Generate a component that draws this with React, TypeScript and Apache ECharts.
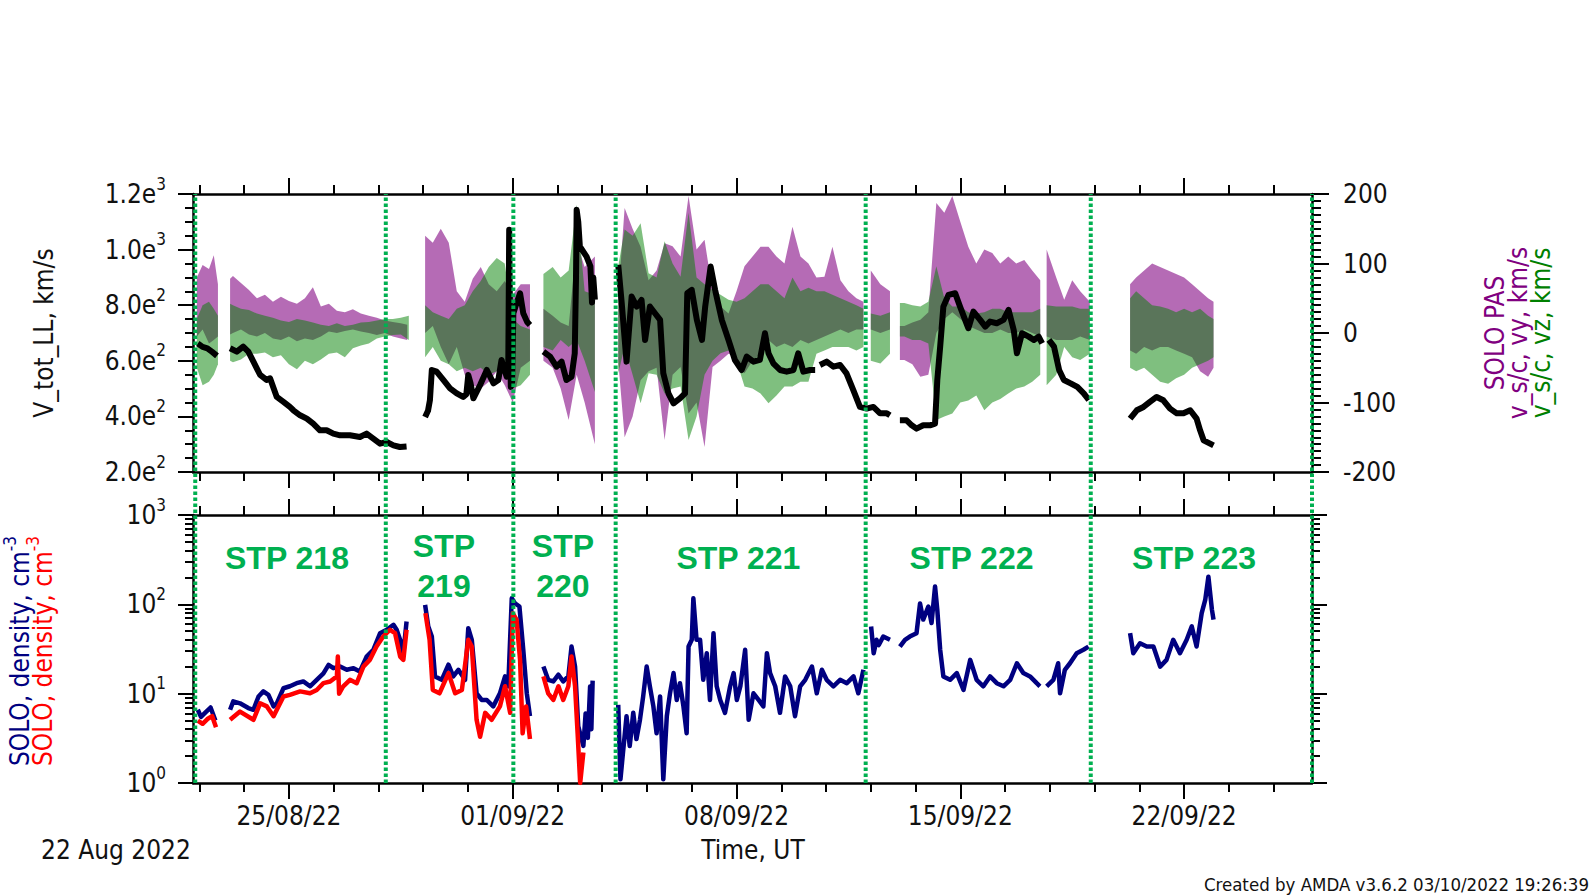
import React, { useEffect, useRef } from "react";
import * as echarts from "echarts";

// ---------- time axis: days since 22 Aug 2022 00:00 UT ----------
const T0 = Date.UTC(2022, 7, 22);
const DAY_MS = 86400000;
const X_MIN = 0;
const X_MAX = 35;
const MAJOR_TICK_DAYS = [3, 10, 17, 24, 31];
const MINOR_TICK_DAYS = [0.2, 1.6, 4.4, 5.8, 7.2, 8.6, 11.4, 12.8, 14.2, 15.6, 18.4, 19.8, 21.2, 22.6, 25.4, 26.8, 28.2, 29.6, 32.4, 33.8];
const LOG_MAJOR = [1, 10, 100, 1000];
const LOG_MINOR = [2, 3, 4, 5, 6, 7, 8, 9, 20, 30, 40, 50, 60, 70, 80, 90, 200, 300, 400, 500, 600, 700, 800, 900];

// ---------- STP intervals ----------
const STP_BOUNDARIES = [0.07, 6.03, 10.02, 13.22, 21.04, 28.08, 35.0];
const STP_NAMES = ["STP 218", "STP\n219", "STP\n220", "STP 221", "STP 222", "STP 223"];
const STP_LABEL_DAY = [2.94, 7.85, 11.57, 17.06, 24.35, 31.31];
const STP_LABEL_LEVEL = [330, 269, 269, 330, 330, 330];

// ---------- V_tot_LL (km/s), [day, value], null = data gap ----------
const V_TOT = [
  [0.15, 662], [0.3, 650], [0.45, 645], [0.6, 632], [0.75, 618],
  null,
  [1.16, 645], [1.37, 633], [1.57, 651], [1.73, 633], [1.89, 597], [2.1, 549], [2.3, 531], [2.41, 537], [2.62, 470], [2.83, 452],
  [3.03, 434], [3.14, 422], [3.35, 404], [3.56, 392], [3.76, 374], [3.97, 350], [4.18, 350], [4.39, 338], [4.6, 332], [4.91, 332],
  [5.22, 326], [5.43, 338], [5.64, 320], [5.85, 302], [6.06, 308], [6.27, 296], [6.47, 290], [6.68, 292],
  null,
  [7.26, 398], [7.35, 420], [7.41, 458], [7.47, 567], [7.62, 561], [7.83, 531], [8.04, 501], [8.25, 483], [8.45, 470], [8.55, 480],
  [8.61, 549], [8.68, 520], [8.77, 465], [8.98, 513], [9.19, 567], [9.4, 519], [9.55, 531], [9.65, 603], [9.81, 543], [9.86, 560],
  [9.89, 1071], [9.92, 700], [9.94, 506], [9.98, 520], [10.02, 771], [10.1, 800], [10.23, 843], [10.33, 771], [10.45, 740], [10.54, 729],
  null,
  [10.96, 633], [11.17, 615], [11.37, 579], [11.53, 597], [11.68, 531], [11.84, 543], [11.94, 627], [11.98, 900], [12.0, 1143],
  [12.05, 1100], [12.1, 1011], [12.31, 975], [12.43, 940], [12.48, 810], [12.52, 900], [12.57, 820],
  null,
  [13.3, 945], [13.41, 807], [13.56, 597], [13.72, 831], [13.88, 795], [14.03, 819], [14.14, 675], [14.29, 795], [14.45, 771],
  [14.61, 747], [14.71, 555], [14.87, 483], [15.03, 447], [15.23, 465], [15.39, 483], [15.46, 843], [15.6, 855], [15.76, 747],
  [15.92, 675], [16.02, 795], [16.19, 939], [16.33, 855], [16.54, 747], [16.75, 675], [16.95, 603], [17.16, 567], [17.32, 615],
  [17.53, 597], [17.73, 603], [17.89, 699], [18.0, 627], [18.15, 591], [18.36, 567], [18.57, 561], [18.78, 567], [18.93, 627],
  [19.09, 561], [19.3, 567], [19.46, 567],
  null,
  [19.61, 585], [19.82, 597], [20.03, 579], [20.24, 585], [20.44, 555], [20.65, 495], [20.86, 434], [21.07, 428], [21.28, 434],
  [21.49, 411], [21.7, 411], [21.8, 404],
  null,
  [22.11, 386], [22.32, 386], [22.48, 368], [22.63, 356], [22.84, 368], [23.05, 368], [23.21, 374], [23.28, 531], [23.37, 651],
  [23.47, 795], [23.63, 837], [23.84, 843], [23.99, 795], [24.15, 747], [24.25, 717], [24.41, 777], [24.62, 747], [24.78, 723],
  [24.93, 741], [25.14, 735], [25.35, 747], [25.51, 783], [25.67, 711], [25.77, 627], [25.93, 699], [26.14, 687], [26.3, 675],
  [26.45, 687], [26.56, 663],
  null,
  [26.77, 675], [26.93, 651], [27.09, 567], [27.24, 531], [27.45, 519], [27.66, 506], [27.86, 483], [28.02, 459],
  null,
  [29.31, 392], [29.52, 422], [29.73, 434], [29.93, 452], [30.14, 470], [30.35, 458], [30.56, 428], [30.77, 411], [30.98, 411],
  [31.19, 422], [31.39, 392], [31.5, 350], [31.61, 314], [31.92, 296],
];

// ---------- SOLO PAS vy (km/s): spread of the samples, [day, low, high] ----------
const VY_SPREAD = [
  [0.12, -5, 80], [0.3, 5, 98], [0.5, -15, 92], [0.65, -10, 112], [0.78, -5, 70],
  null,
  [1.16, -2, 78], [1.25, 0, 82], [1.5, 5, 72], [1.75, -2, 62], [2.0, -5, 50], [2.25, 0, 55], [2.5, -8, 45], [2.75, -10, 52],
  [3.0, -5, 46], [3.25, -12, 42], [3.5, -8, 50], [3.75, -10, 66], [4.0, -5, 38], [4.25, 2, 42], [4.5, 0, 32], [4.75, 3, 30],
  [5.0, 5, 34], [5.25, 2, 28], [5.5, 0, 25], [5.75, -3, 22], [6.0, 0, 18], [6.25, -5, 16], [6.5, -8, 14], [6.7, -10, 12],
  null,
  [7.26, 0, 140], [7.5, 10, 130], [7.75, -20, 150], [8.0, -45, 130], [8.25, -20, 60], [8.5, -60, 45], [8.75, -75, 78],
  [9.0, -80, 95], [9.25, -70, 70], [9.5, -55, 60], [9.75, -75, 75], [10.0, -100, 55], [10.25, -50, 70], [10.54, -40, 70],
  null,
  [10.96, -40, 35], [11.25, -50, 25], [11.5, -80, 15], [11.75, -125, 10], [12.0, -60, 130], [12.25, -100, 95], [12.57, -160, 110],
  null,
  [13.3, -40, 50], [13.5, -150, 180], [13.75, -120, 150], [14.0, -68, 124], [14.25, -55, 76], [14.5, -50, 90], [14.75, -154, 129],
  [15.0, -60, 125], [15.25, -49, 110], [15.5, -116, 197], [15.75, -100, 120], [16.0, -164, 134], [16.25, -49, 60], [16.5, -40, 38],
  [16.75, -30, 28], [17.0, -35, 60], [17.25, -58, 96], [17.5, -40, 110], [17.75, -30, 124], [18.0, -10, 124], [18.25, -20, 110],
  [18.5, -15, 100], [18.75, -20, 153], [19.0, -10, 110], [19.25, -15, 100], [19.5, -10, 80], [19.75, -5, 81], [20.0, 0, 124],
  [20.25, 5, 76], [20.5, 0, 60], [20.75, 5, 50], [20.97, 5, 45],
  null,
  [21.2, 5, 90], [21.5, 0, 70], [21.8, 5, 60],
  null,
  [22.11, -39, 10], [22.25, -39, 10], [22.5, -45, 15], [22.75, -63, 19], [23.0, -60, 30], [23.25, 0, 187], [23.5, 20, 173],
  [23.75, 30, 197], [24.0, 20, 160], [24.25, 10, 124], [24.5, 5, 100], [24.75, 0, 120], [25.0, 0, 115], [25.25, 5, 100],
  [25.5, 0, 110], [25.75, 0, 100], [26.0, 5, 105], [26.25, 0, 90], [26.5, -5, 76],
  null,
  [26.7, -5, 120], [27.0, -10, 80], [27.25, -10, 48], [27.5, -10, 76], [27.75, -5, 60], [28.05, -10, 45],
  null,
  [29.31, -25, 70], [29.5, -30, 80], [29.75, -20, 90], [30.0, -25, 100], [30.25, -20, 95], [30.5, -20, 90], [30.75, -25, 85],
  [31.0, -30, 80], [31.25, -35, 70], [31.5, -55, 60], [31.75, -63, 50], [31.92, -50, 45],
];

// ---------- SOLO PAS vz (km/s): spread of the samples, [day, low, high] ----------
const VZ_SPREAD = [
  [0.12, -50, 20], [0.3, -75, 40], [0.5, -70, 45], [0.65, -60, 35], [0.78, -45, 25],
  null,
  [1.16, -40, 42], [1.25, -42, 40], [1.5, -38, 35], [1.75, -30, 33], [2.0, -30, 28], [2.25, -28, 25], [2.5, -35, 22],
  [2.75, -32, 18], [3.0, -45, 16], [3.25, -52, 20], [3.5, -40, 18], [3.75, -45, 15], [4.0, -38, 12], [4.25, -30, 10],
  [4.5, -28, 14], [4.75, -35, 10], [5.0, -22, 12], [5.25, -18, 15], [5.5, -15, 16], [5.75, -8, 18], [6.0, -5, 20],
  [6.25, -3, 20], [6.5, -2, 22], [6.75, -10, 25],
  null,
  [7.26, -35, 40], [7.5, -20, 30], [7.75, -40, 25], [8.0, -45, 20], [8.25, -55, 35], [8.5, -50, 40], [8.75, -55, 60],
  [9.0, -50, 75], [9.25, -60, 95], [9.5, -55, 108], [9.75, -40, 100], [10.0, -80, 20], [10.25, -75, 10], [10.54, -60, 5],
  null,
  [10.96, -20, 85], [11.25, -25, 95], [11.5, -10, 80], [11.75, -20, 90], [12.0, -10, 185], [12.25, -40, 60], [12.57, -85, 55],
  null,
  [13.3, -58, 96], [13.5, -20, 149], [13.75, -60, 140], [14.0, -101, 158], [14.25, -58, 86], [14.5, -60, 80], [14.75, -87, 132],
  [15.0, -80, 100], [15.25, -77, 81], [15.5, -154, 173], [15.75, -120, 80], [16.0, -60, 70], [16.25, -40, 62], [16.5, -29, 55],
  [16.75, -25, 48], [17.0, -40, 45], [17.25, -77, 50], [17.5, -80, 60], [17.75, -87, 70], [18.0, -101, 70], [18.25, -90, 60],
  [18.5, -77, 50], [18.75, -77, 80], [19.0, -70, 60], [19.25, -70, 65], [19.5, -30, 60], [19.75, -25, 60], [20.0, -20, 55],
  [20.25, -20, 50], [20.5, -20, 45], [20.75, -25, 40], [20.97, -20, 35],
  null,
  [21.2, -40, 28], [21.5, -44, 25], [21.8, -30, 30],
  null,
  [22.11, -5, 43], [22.25, -5, 43], [22.5, -10, 40], [22.75, -10, 38], [23.0, -15, 45], [23.25, -125, 96], [23.5, -120, 50],
  [23.75, -116, 38], [24.0, -100, 38], [24.25, -97, 30], [24.5, -90, 28], [24.75, -111, 30], [25.0, -100, 35], [25.25, -95, 35],
  [25.5, -87, 30], [25.75, -80, 30], [26.0, -77, 30], [26.25, -70, 30], [26.5, -60, 35],
  null,
  [26.7, -75, 40], [27.0, -60, 38], [27.25, -20, 38], [27.5, -35, 38], [27.75, -39, 35], [28.05, -30, 35],
  null,
  [29.31, -50, 50], [29.5, -55, 60], [29.75, -50, 50], [30.0, -60, 40], [30.25, -70, 38], [30.5, -73, 35], [30.75, -65, 30],
  [31.0, -60, 35], [31.25, -50, 30], [31.5, -45, 35], [31.75, -40, 25], [31.92, -35, 20],
];

// ---------- SOLO density (cm^-3), blue ----------
const DENSITY_BLUE = [
  [0.15, 6.6], [0.25, 5.5], [0.4, 6.2], [0.55, 7.0], [0.7, 5.0],
  null,
  [1.16, 6.6], [1.26, 8.2], [1.47, 7.8], [1.73, 6.9], [1.89, 6.6], [2.05, 9.3], [2.2, 10.6], [2.36, 9.7], [2.52, 7.2], [2.62, 7.8],
  [2.83, 11.5], [3.03, 12.1], [3.24, 13.1], [3.45, 13.7], [3.66, 12.1], [3.87, 14.3], [4.08, 16.9], [4.24, 21], [4.39, 19.3],
  [4.6, 20.1], [4.81, 18.5], [5.02, 19.3], [5.22, 17.7], [5.43, 26], [5.64, 30.9], [5.85, 47.5], [6.06, 51.9], [6.27, 59],
  [6.37, 51.9], [6.48, 40], [6.58, 28.3], [6.68, 64.3],
  null,
  [7.26, 98.6], [7.36, 56.3], [7.47, 43.6], [7.57, 15.6], [7.78, 14.3], [7.99, 21.1], [8.14, 15.6], [8.3, 18.5], [8.51, 14.3],
  [8.61, 54.1], [8.72, 40.1], [8.87, 10.1], [9.03, 8.5], [9.19, 8.5], [9.39, 7.2], [9.6, 10.1], [9.76, 15.6], [9.86, 12.1],
  [9.97, 117], [10.07, 103], [10.21, 94.6], [10.33, 31], [10.44, 10.1], [10.54, 5.6],
  null,
  [10.96, 20.1], [11.11, 14.3], [11.27, 13.7], [11.43, 16.3], [11.58, 13.7], [11.74, 15.6], [11.84, 33.7], [11.95, 20.1],
  [12.05, 4.3], [12.21, 2.6], [12.28, 6], [12.35, 3.2], [12.42, 12], [12.46, 4], [12.5, 14],
  null,
  [13.3, 7.5], [13.37, 1.1], [13.45, 2.2], [13.56, 5.6], [13.66, 2.6], [13.77, 6.1], [13.87, 3.1], [13.98, 5.1], [14.08, 9.3],
  [14.19, 20.1], [14.29, 12.1], [14.4, 7.2], [14.5, 3.6], [14.61, 9.3], [14.71, 1.1], [14.82, 5.6], [14.92, 10.1], [15.03, 17],
  [15.13, 8.5], [15.23, 13.1], [15.34, 7.2], [15.44, 3.6], [15.5, 33.7], [15.6, 40.1], [15.65, 117], [15.75, 40.1], [15.86, 40.1],
  [15.96, 14.3], [16.07, 28.4], [16.17, 8.5], [16.28, 47.6], [16.38, 12.1], [16.49, 8.5], [16.64, 6.1], [16.8, 12.1], [16.91, 17],
  [17.01, 8.5], [17.12, 12.1], [17.27, 31], [17.38, 5.1], [17.53, 10.1], [17.69, 8.5], [17.84, 7.2], [17.95, 28.4], [18.05, 17],
  [18.21, 12.1], [18.36, 6.1], [18.52, 15.6], [18.68, 12.1], [18.83, 5.6], [18.99, 12.1], [19.15, 14.3], [19.36, 20.1],
  [19.51, 10.1], [19.67, 18.5], [19.82, 14.3], [20.03, 12.1], [20.24, 14.3], [20.45, 13.1], [20.66, 15.6], [20.81, 10.1], [20.97, 18.5],
  null,
  [21.21, 56.6], [21.29, 28.4], [21.38, 40.1], [21.45, 35], [21.59, 43.6], [21.8, 40.1],
  null,
  [22.11, 33.7], [22.27, 40.1], [22.42, 43.6], [22.63, 47.6], [22.74, 102], [22.84, 67.5], [23.0, 94.6], [23.1, 61.7], [23.21, 158],
  [23.28, 87], [23.37, 31], [23.47, 15.6], [23.68, 14.3], [23.89, 17], [24.1, 11], [24.31, 23.9], [24.51, 14.3], [24.72, 12.1],
  [24.93, 15.6], [25.14, 13.1], [25.35, 12.1], [25.56, 14.3], [25.77, 21.9], [25.97, 17], [26.18, 15.6], [26.39, 13.1], [26.49, 12.1],
  null,
  [26.7, 12.1], [26.91, 14.3], [27.06, 21.9], [27.12, 10.1], [27.27, 18.5], [27.43, 21.9], [27.64, 28.4], [27.85, 31], [28.01, 33.7],
  null,
  [29.31, 47.6], [29.41, 28.4], [29.62, 36.6], [29.83, 33.7], [30.04, 33.7], [30.25, 20.1], [30.45, 23.9], [30.66, 40.1],
  [30.87, 28.4], [31.08, 40.1], [31.24, 56.6], [31.39, 33.7], [31.55, 79.7], [31.66, 112], [31.76, 204], [31.87, 87], [31.92, 67.5],
];

// ---------- SOLO density (cm^-3), red ----------
const DENSITY_RED = [
  [0.15, 5.0], [0.3, 4.6], [0.45, 5.2], [0.6, 5.6], [0.72, 4.2],
  null,
  [1.16, 5.1], [1.47, 6.3], [1.89, 5.1], [2.1, 7.8], [2.31, 7.2], [2.52, 5.6], [2.83, 9.3], [3.03, 9.7], [3.35, 10.6], [3.66, 10.1],
  [3.87, 11], [4.08, 13.1], [4.29, 13.7], [4.5, 15.6], [4.53, 26], [4.57, 10], [4.7, 12.1], [4.91, 14.3], [5.12, 13.1], [5.33, 20.1],
  [5.53, 23.9], [5.74, 33.7], [5.95, 43.6], [6.16, 51.9], [6.32, 47.5], [6.48, 26], [6.58, 23.9], [6.68, 51.9],
  null,
  [7.27, 79.6], [7.4, 40.1], [7.5, 11], [7.71, 10.1], [7.99, 17], [8.2, 10.1], [8.41, 11], [8.61, 40.1], [8.72, 33.7], [8.87, 5.1],
  [8.98, 3.3], [9.14, 6.1], [9.34, 5.1], [9.6, 7.2], [9.76, 12.1], [9.92, 6.1], [10.0, 79.6], [10.12, 67.5], [10.23, 23.9],
  [10.31, 3.6], [10.42, 7.2], [10.54, 3.1],
  null,
  [10.96, 15.6], [11.11, 10.1], [11.27, 8.5], [11.43, 12.1], [11.58, 8.5], [11.74, 12.1], [11.84, 26.1], [11.95, 12.1],
  [12.03, 3.6], [12.11, 1.0], [12.21, 2.2],
];

// ---------- styling ----------
const FONT = '"DejaVu Sans Condensed", "DejaVu Sans", sans-serif';
const STP_FONT = '"Liberation Sans", Arial, sans-serif';
const INK = "#111111";
const PURPLE = "#800080";
const GREEN = "#008000";
const STP_GREEN = "#00b050";
const NAVY = "#000080";
const RED = "#ff0000";

const pad2 = (n: number) => (n < 10 ? "0" : "") + n;
const dayLabel = (d: number) => {
  const dt = new Date(T0 + d * DAY_MS);
  return pad2(dt.getUTCDate()) + "/" + pad2(dt.getUTCMonth() + 1) + "/" + String(dt.getUTCFullYear()).slice(2);
};

function splitSegments(arr: any[]) {
  const out: any[][] = [];
  let cur: any[] = [];
  for (const p of arr) {
    if (p === null) {
      if (cur.length) out.push(cur);
      cur = [];
    } else cur.push(p);
  }
  if (cur.length) out.push(cur);
  return out;
}

function lineData(arr: any[]) {
  const out: any[] = [];
  arr.forEach((p, i) => {
    if (p === null) out.push([arr[i - 1][0] + 0.01, "-"]);
    else out.push(p);
  });
  return out;
}

const SUP = { fontSize: 17, fontFamily: FONT, color: INK, lineHeight: 26, padding: [0, 0, 21, 0] };
const TICK = { color: "#000", width: 2 };
const AXLINE = { show: true, onZero: false, lineStyle: { color: "#000", width: 2.5 } };
const NOLINE = { show: false, onZero: false };

function xAxesFor(grid: number, withLabels: boolean) {
  const base = { type: "value", gridIndex: grid, min: X_MIN, max: X_MAX, splitLine: { show: false } };
  return [
    {
      ...base, position: "bottom", axisLine: AXLINE,
      axisTick: { show: true, customValues: MAJOR_TICK_DAYS, length: 16, lineStyle: TICK },
      axisLabel: withLabels
        ? { show: true, customValues: MAJOR_TICK_DAYS, formatter: (v: number) => dayLabel(v), fontSize: 26, fontFamily: FONT, color: INK, margin: 20 }
        : { show: false },
    },
    {
      ...base, position: "bottom", axisLine: NOLINE,
      axisTick: { show: true, customValues: MINOR_TICK_DAYS, length: 9, lineStyle: TICK }, axisLabel: { show: false },
    },
    {
      ...base, position: "top", axisLine: AXLINE,
      axisTick: { show: true, customValues: MAJOR_TICK_DAYS, length: 16, lineStyle: TICK }, axisLabel: { show: false },
    },
    {
      ...base, position: "top", axisLine: NOLINE,
      axisTick: { show: true, customValues: MINOR_TICK_DAYS, length: 9, lineStyle: TICK }, axisLabel: { show: false },
    },
  ];
}

function sciLabel(v: number) {
  const e = Math.floor(Math.log10(v) + 1e-9);
  const m = v / Math.pow(10, e);
  return m.toFixed(1) + "e{s|" + e + "}";
}

function spreadSeries(spread: any[], color: string, opacity: number) {
  const segs = splitSegments(spread);
  return {
    type: "custom", xAxisIndex: 0, yAxisIndex: 1, silent: true, z: 2,
    data: segs.map((s) => [s[0][0], s[0][1]]),
    renderItem: (params: any, api: any) => {
      const seg = segs[params.dataIndex];
      const upper = seg.map((p: number[]) => api.coord([p[0], p[2]]));
      const lower = seg.slice().reverse().map((p: number[]) => api.coord([p[0], p[1]]));
      return { type: "polygon", shape: { points: upper.concat(lower) }, style: { fill: color, opacity } };
    },
  };
}

export default function App() {
  const ref = useRef<HTMLDivElement>(null);
  useEffect(() => {
    if (!ref.current) return;
    const chart = echarts.init(ref.current, undefined, { renderer: "svg" });
    const option: any = {
      animation: false,
      backgroundColor: "#ffffff",
      grid: [
        { left: 193, top: 194, width: 1119, height: 278 },
        { left: 193, top: 515, width: 1119, height: 268 },
        { left: 193, top: 194, width: 1119, height: 589 },
      ],
      xAxis: [
        ...xAxesFor(0, false),
        ...xAxesFor(1, true),
        { type: "value", gridIndex: 2, min: X_MIN, max: X_MAX, show: false },
      ],
      yAxis: [
        {
          type: "value", gridIndex: 0, position: "left", min: 200, max: 1200, interval: 200,
          axisLine: AXLINE, splitLine: { show: false },
          axisTick: { show: true, length: 15, lineStyle: TICK },
          minorTick: { show: true, splitNumber: 4, length: 8, lineStyle: TICK },
          axisLabel: { formatter: sciLabel, fontSize: 26, fontFamily: FONT, color: INK, margin: 27, lineHeight: 26, rich: { s: SUP } },
        },
        {
          type: "value", gridIndex: 0, position: "right", min: -200, max: 200, interval: 100,
          axisLine: AXLINE, splitLine: { show: false },
          axisTick: { show: true, length: 17, lineStyle: TICK },
          minorTick: { show: true, splitNumber: 10, length: 9, lineStyle: TICK },
          axisLabel: { fontSize: 26, fontFamily: FONT, color: INK, margin: 31 },
        },
        {
          type: "log", logBase: 10, gridIndex: 1, position: "left", min: 1, max: 1000,
          axisLine: AXLINE, splitLine: { show: false },
          axisTick: { show: true, customValues: LOG_MAJOR, length: 15, lineStyle: TICK },
          axisLabel: {
            customValues: LOG_MAJOR,
            formatter: (v: number) => "10{s|" + Math.round(Math.log10(v)) + "}",
            fontSize: 26, fontFamily: FONT, color: INK, margin: 27, lineHeight: 26, rich: { s: SUP },
          },
        },
        {
          type: "log", logBase: 10, gridIndex: 1, position: "left", min: 1, max: 1000,
          axisLine: NOLINE, splitLine: { show: false },
          axisTick: { show: true, customValues: LOG_MINOR, length: 8, lineStyle: TICK }, axisLabel: { show: false },
        },
        {
          type: "log", logBase: 10, gridIndex: 1, position: "right", min: 1, max: 1000,
          axisLine: AXLINE, splitLine: { show: false },
          axisTick: { show: true, customValues: LOG_MAJOR, length: 15, lineStyle: TICK }, axisLabel: { show: false },
        },
        {
          type: "log", logBase: 10, gridIndex: 1, position: "right", min: 1, max: 1000,
          axisLine: NOLINE, splitLine: { show: false },
          axisTick: { show: true, customValues: LOG_MINOR, length: 8, lineStyle: TICK }, axisLabel: { show: false },
        },
        { type: "value", gridIndex: 2, min: 0, max: 1, show: false },
      ],
      series: [
        spreadSeries(VY_SPREAD, PURPLE, 0.58),
        spreadSeries(VZ_SPREAD, GREEN, 0.5),
        {
          type: "line", name: "V_tot_LL", xAxisIndex: 0, yAxisIndex: 0, data: lineData(V_TOT),
          showSymbol: false, symbol: "none", connectNulls: false, z: 3,
          lineStyle: { color: "#000", width: 6, join: "round" }, itemStyle: { color: "#000" },
        },
        {
          type: "line", name: "density (blue)", xAxisIndex: 4, yAxisIndex: 2, data: lineData(DENSITY_BLUE),
          showSymbol: false, symbol: "none", connectNulls: false, z: 3,
          lineStyle: { color: NAVY, width: 4.5, join: "round" }, itemStyle: { color: NAVY },
        },
        {
          type: "line", name: "density (red)", xAxisIndex: 4, yAxisIndex: 2, data: lineData(DENSITY_RED),
          showSymbol: false, symbol: "none", connectNulls: false, z: 4,
          lineStyle: { color: RED, width: 4.5, join: "round" }, itemStyle: { color: RED },
        },
        {
          type: "scatter", xAxisIndex: 4, yAxisIndex: 2, symbolSize: 1, silent: true, z: 6,
          itemStyle: { color: "rgba(0,0,0,0)", opacity: 1 },
          data: STP_NAMES.map((n, i) => ({ name: n, value: [STP_LABEL_DAY[i], STP_LABEL_LEVEL[i]] })),
          label: {
            show: true, position: "inside", formatter: "{b}", fontSize: 32, fontFamily: STP_FONT, fontWeight: "bold",
            color: STP_GREEN, opacity: 1, lineHeight: 40, align: "center", verticalAlign: "middle",
            textBorderWidth: 0, textBorderColor: "transparent",
          },
        },
        {
          type: "custom", xAxisIndex: 8, yAxisIndex: 6, silent: true, z: 10,
          data: STP_BOUNDARIES.map((d) => [d, 0]),
          renderItem: (params: any, api: any) => {
            const d = api.value(0);
            const a = api.coord([d, 0]);
            const b = api.coord([d, 1]);
            return {
              type: "line",
              shape: { x1: a[0], y1: a[1], x2: b[0], y2: b[1] },
              style: { stroke: STP_GREEN, lineWidth: 4, lineDash: [3.5, 2.5] },
            };
          },
        },
      ],
      graphic: [
        {
          type: "text", x: 44, y: 333, rotation: Math.PI / 2,
          style: { text: "V_tot_LL, km/s", fontSize: 26, fontFamily: FONT, fill: INK, align: "center", verticalAlign: "middle" },
        },
        {
          type: "text", x: 1518, y: 333, rotation: Math.PI / 2,
          style: {
            text: "{p|SOLO PAS}\n{p|v_s/c, vy, km/s}\n{g|v_s/c, vz, km/s}",
            fontSize: 26, fontFamily: FONT, align: "center", verticalAlign: "middle", lineHeight: 23,
            rich: {
              p: { fill: PURPLE, fontSize: 26, fontFamily: FONT, lineHeight: 23 },
              g: { fill: GREEN, fontSize: 26, fontFamily: FONT, lineHeight: 23 },
            },
          },
        },
        {
          type: "text", x: 31, y: 651, rotation: Math.PI / 2,
          style: {
            text: "{b|SOLO, density, cm}{bs|-3}\n{r|SOLO, density, cm}{rs|-3}",
            fontSize: 26, fontFamily: FONT, align: "center", verticalAlign: "middle", lineHeight: 23,
            rich: {
              b: { fill: NAVY, fontSize: 26, fontFamily: FONT, lineHeight: 23 },
              bs: { fill: NAVY, fontSize: 17, fontFamily: FONT, lineHeight: 23, padding: [0, 0, 20, 0] },
              r: { fill: RED, fontSize: 26, fontFamily: FONT, lineHeight: 23 },
              rs: { fill: RED, fontSize: 17, fontFamily: FONT, lineHeight: 23, padding: [0, 0, 20, 0] },
            },
          },
        },
        {
          type: "text", x: 41, y: 850,
          style: { text: "22 Aug 2022", fontSize: 26, fontFamily: FONT, fill: INK, align: "left", verticalAlign: "middle" },
        },
        {
          type: "text", x: 753, y: 850,
          style: { text: "Time, UT", fontSize: 26, fontFamily: FONT, fill: INK, align: "center", verticalAlign: "middle" },
        },
        {
          type: "text", x: 1589, y: 884,
          style: { text: "Created by AMDA v3.6.2 03/10/2022 19:26:39", fontSize: 18.5, fontFamily: FONT, fill: INK, align: "right", verticalAlign: "middle" },
        },
      ],
    };
    chart.setOption(option);
    return () => chart.dispose();
  }, []);
  return <div ref={ref} style={{ position: "absolute", left: 0, top: 0, width: 1591, height: 895, background: "#fff" }} />;
}
